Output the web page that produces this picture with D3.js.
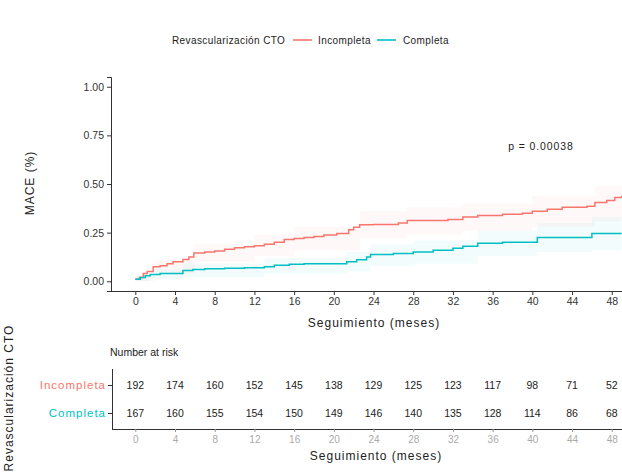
<!DOCTYPE html>
<html>
<head>
<meta charset="utf-8">
<script src="https://cdn.jsdelivr.net/npm/d3@7"></script>
<style>
  body { margin: 0; background: #fff; }
  svg { font-family: "Liberation Sans", Arial, sans-serif; }
</style>
</head>
<body>
<div id="chart"></div>
<script>
(function () {

    var groups = ["Incompleta", "Completa"];
    var colors = ["#F8766D", "#00BFC4"];

    // cumulative MACE: [month, value]
    var incompleta = [[0,0.01],[0.4,0.02],[0.8,0.04],[1.2,0.05],[1.8,0.075],[2.5,0.08],[3.2,0.09],[3.8,0.1],
        [4.8,0.112],[5.4,0.125],[5.9,0.145],[7,0.15],[8,0.155],[9,0.165],[10,0.172],[11,0.178],[12,0.183],
        [13,0.19],[14,0.2],[15,0.215],[16,0.22],[17,0.225],[18,0.23],[19,0.238],[20.3,0.245],[21.5,0.265],
        [22,0.278],[22.6,0.29],[24,0.292],[26.5,0.3],[27.4,0.312],[31.5,0.318],[33,0.33],[34.5,0.338],
        [37,0.345],[39,0.35],[40,0.36],[41.5,0.37],[43,0.38],[45.5,0.385],[46.3,0.405],[47.5,0.415],
        [48.3,0.43],[49,0.44]];
    var completa = [[0,0.01],[0.5,0.02],[1,0.028],[1.5,0.035],[2.5,0.04],[4.8,0.055],[5.8,0.06],[7,0.065],
        [9,0.067],[11,0.07],[13,0.075],[14,0.082],[15.5,0.088],[17,0.09],[21.3,0.1],[22.3,0.11],[23.3,0.125],
        [23.7,0.137],[26,0.143],[28,0.15],[30,0.16],[32,0.17],[33,0.18],[34.5,0.195],[37,0.2],[40.5,0.225],
        [46,0.245],[49,0.245]];

    // confidence bands: [month, lower, upper]
    var incompletaCI = [[0,0,0.03],[2,0.04,0.11],[6,0.1,0.19],[12,0.13,0.24],[16,0.16,0.28],[22.6,0.22,0.36],
        [27.4,0.24,0.38],[33,0.26,0.4],[40,0.28,0.44],[46.3,0.31,0.49],[49,0.34,0.53]];
    var completaCI = [[0,0,0.03],[1.5,0.01,0.06],[4.8,0.02,0.09],[13,0.04,0.12],[21.3,0.05,0.15],
        [23.7,0.08,0.19],[28,0.09,0.21],[34.5,0.13,0.26],[40.5,0.15,0.3],[46,0.16,0.33],[49,0.16,0.33]];

    var xTicks = [0,4,8,12,16,20,24,28,32,36,40,44,48];
    var yTicks = [0,0.25,0.5,0.75,1];
    var riskIncompleta = [192,174,160,152,145,138,129,125,123,117,98,71,52];
    var riskCompleta = [167,160,155,154,150,149,146,140,135,128,114,86,68];
    var pValue = "p = 0.00038";

    var W = 622, H = 474;
    var svg = d3.select("#chart").append("svg").attr("width", W).attr("height", H);

    var x = d3.scaleLinear().domain([-2.45, 51.45]).range([111, 646]);
    var y = d3.scaleLinear().domain([-0.05, 1.05]).range([291, 77]);

    // legend
    var leg = svg.append("g").attr("font-size", 10).attr("fill", "#222").attr("letter-spacing", 0.4);
    leg.append("text").attr("x", 172).attr("y", 44).text("Revascularización CTO");
    leg.append("line").attr("x1", 293).attr("x2", 312).attr("y1", 40).attr("y2", 40)
        .attr("stroke", colors[0]).attr("stroke-width", 1.6);
    leg.append("text").attr("x", 318).attr("y", 44).text("Incompleta");
    leg.append("line").attr("x1", 377).attr("x2", 396).attr("y1", 40).attr("y2", 40)
        .attr("stroke", colors[1]).attr("stroke-width", 1.6);
    leg.append("text").attr("x", 403).attr("y", 44).text("Completa");

    svg.append("clipPath").attr("id", "clip").append("rect")
        .attr("x", 111).attr("y", 77).attr("width", 520).attr("height", 214);

    var plot = svg.append("g").attr("clip-path", "url(#clip)");

    var band = d3.area().curve(d3.curveStepAfter)
        .x(function (d) { return x(d[0]); })
        .y0(function (d) { return y(d[1]); })
        .y1(function (d) { return y(d[2]); });
    plot.selectAll("path.band")
        .data([incompletaCI, completaCI])
        .enter().append("path")
        .attr("class", "band")
        .attr("d", band)
        .attr("fill", function (d, i) { return colors[i]; })
        .attr("fill-opacity", 0.05);

    var line = d3.line().curve(d3.curveStepAfter)
        .x(function (d) { return x(d[0]); })
        .y(function (d) { return y(d[1]); });
    plot.selectAll("path.km")
        .data([incompleta, completa])
        .enter().append("path")
        .attr("class", "km")
        .attr("d", line)
        .attr("fill", "none")
        .attr("stroke", function (d, i) { return colors[i]; })
        .attr("stroke-width", 1.5);

    // axes
    var xAxis = svg.append("g").attr("transform", "translate(0,291)")
        .call(d3.axisBottom(x).tickValues(xTicks).tickSize(4).tickPadding(3));
    var yAxis = svg.append("g").attr("transform", "translate(111,0)")
        .call(d3.axisLeft(y).tickValues(yTicks).tickSize(4).tickPadding(3).tickFormat(d3.format(".2f")));
    [xAxis, yAxis].forEach(function (a) {
        a.select(".domain").attr("stroke", "#333").attr("stroke-width", 1);
        a.selectAll(".tick line").attr("stroke", "#333");
        a.selectAll("text").attr("font-size", 10.5).attr("fill", "#333")
            .attr("font-family", "Liberation Sans, Arial, sans-serif");
    });
    xAxis.select(".domain").attr("d", "M111,0.5H622");

    var titleFont = { size: 12, spacing: 1 };
    svg.append("text").attr("x", 374).attr("y", 327).attr("text-anchor", "middle")
        .attr("font-size", titleFont.size).attr("letter-spacing", titleFont.spacing)
        .attr("fill", "#222").text("Seguimiento (meses)");
    svg.append("text").attr("transform", "translate(34,183) rotate(-90)").attr("text-anchor", "middle")
        .attr("font-size", titleFont.size).attr("letter-spacing", titleFont.spacing)
        .attr("fill", "#222").text("MACE (%)");
    svg.append("text").attr("x", 541).attr("y", 150).attr("text-anchor", "middle")
        .attr("font-size", 10.5).attr("letter-spacing", 0.9).attr("fill", "#222").text(pValue);

    // risk table
    var ry = d3.scalePoint().domain(groups).range([385, 413]);
    svg.append("text").attr("x", 110).attr("y", 356).attr("font-size", 10.5).attr("fill", "#222")
        .text("Number at risk");

    var tab = svg.append("g").attr("font-size", 10.5).attr("fill", "#222").attr("text-anchor", "middle");
    [riskIncompleta, riskCompleta].forEach(function (row, gi) {
        tab.selectAll("text.r" + gi)
            .data(row)
            .enter().append("text")
            .attr("class", "r" + gi)
            .attr("x", function (d, i) { return x(xTicks[i]); })
            .attr("y", ry(groups[gi]) + 4)
            .text(function (d) { return d; });
    });

    var ryAxis = svg.append("g").attr("transform", "translate(112,0)")
        .call(d3.axisLeft(ry).tickSize(4).tickPadding(2));
    ryAxis.select(".domain").attr("d", "M0.5,369V429");
    ryAxis.select(".domain").attr("stroke", "#333");
    ryAxis.selectAll(".tick line").attr("stroke", "#333");
    ryAxis.selectAll("text").attr("font-size", 11.5).attr("letter-spacing", 1)
        .attr("font-family", "Liberation Sans, Arial, sans-serif")
        .attr("fill", function (d, i) { return colors[i]; });

    var rxAxis = svg.append("g").attr("transform", "translate(0,429)")
        .call(d3.axisBottom(x).tickValues(xTicks).tickSize(3).tickPadding(4));
    rxAxis.select(".domain").attr("d", "M112,0.5H622").attr("stroke", "#333");
    rxAxis.selectAll(".tick line").attr("stroke", "#999");
    rxAxis.selectAll("text").attr("font-size", 10).attr("fill", "#aaa")
        .attr("font-family", "Liberation Sans, Arial, sans-serif");

    svg.append("text").attr("x", 376).attr("y", 460).attr("text-anchor", "middle")
        .attr("font-size", titleFont.size).attr("letter-spacing", titleFont.spacing)
        .attr("fill", "#222").text("Seguimiento (meses)");
    svg.append("text").attr("transform", "translate(13,398) rotate(-90)").attr("text-anchor", "middle")
        .attr("font-size", titleFont.size).attr("letter-spacing", titleFont.spacing)
        .attr("fill", "#222").text("Revascularización CTO");
})();
</script>
</body>
</html>
